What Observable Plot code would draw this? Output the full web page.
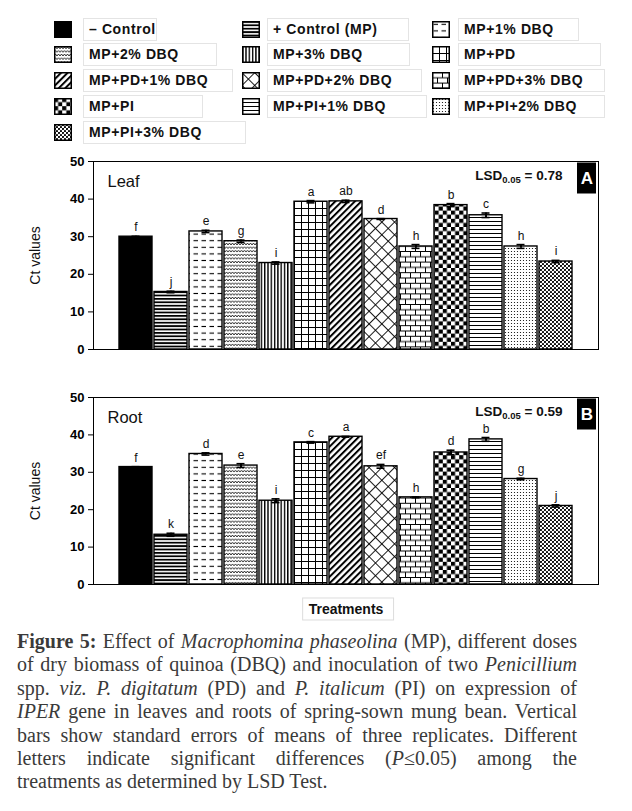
<!DOCTYPE html>
<html>
<head>
<meta charset="utf-8">
<script src="https://cdn.jsdelivr.net/npm/d3@7"></script>
<script src="https://cdn.jsdelivr.net/npm/@observablehq/plot@0.6"></script>
<style>
  html, body { margin: 0; padding: 0; background: #fff; }
  body { width: 632px; height: 811px; position: relative; overflow: hidden; font-family: "Liberation Sans", Arial, sans-serif; }
  #legend { position: absolute; left: 0; top: 0; width: 632px; height: 145px; }
  .sw { position: absolute; width: 18px; height: 17px; }
  .lb { position: absolute; height: 21px; border: 1px solid #e4e4e4; box-sizing: content-box;
        font-weight: bold; font-size: 14px; line-height: 21px; padding-left: 5px; letter-spacing: 0.6px; color: #111; white-space: nowrap; }
  #panelA { position: absolute; left: 0; top: 145px; }
  #panelB { position: absolute; left: 0; top: 365px; }
  #caption { position: absolute; left: 17px; top: 630px; width: 560px; font-family: "Liberation Serif", "Times New Roman", serif;
             font-size: 20px; color: #3a3a3a; }
  #caption div { height: 23.4px; line-height: 23.4px; white-space: nowrap; text-align: justify; text-align-last: justify; }
  #caption div.last { text-align-last: left; }
</style>
</head>
<body>
<svg width="0" height="0" style="position:absolute;left:0;top:0">
  <defs>
    <pattern id="p1" patternUnits="userSpaceOnUse" width="4" height="3.4"><rect width="4" height="3.4" fill="#fff"/><rect width="4" height="1.8" fill="#000"/></pattern>
    <pattern id="p2" patternUnits="userSpaceOnUse" width="8" height="6.6"><rect width="8" height="6.6" fill="#fff"/><line x1="1.5" y1="3.3" x2="6" y2="3.3" stroke="#000" stroke-width="1.1"/></pattern>
    <pattern id="p3" patternUnits="userSpaceOnUse" width="6" height="3.6"><rect width="6" height="3.6" fill="#fff"/><path d="M0 2.7L1.5 0.9L3 2.7L4.5 0.9L6 2.7" fill="none" stroke="#000" stroke-width="0.8"/></pattern>
    <pattern id="p4" patternUnits="userSpaceOnUse" width="3.3" height="4"><rect width="3.3" height="4" fill="#fff"/><rect width="1.4" height="4" fill="#000"/></pattern>
    <pattern id="p5" patternUnits="userSpaceOnUse" width="7" height="7"><rect width="7" height="7" fill="#fff"/><path d="M0 0.5H7M0.5 0V7" stroke="#000" stroke-width="1"/></pattern>
    <pattern id="p6" patternUnits="userSpaceOnUse" width="4.6" height="4.6" patternTransform="rotate(45)"><rect width="4.6" height="4.6" fill="#fff"/><rect width="2" height="4.6" fill="#000"/></pattern>
    <pattern id="p7" patternUnits="userSpaceOnUse" width="9" height="9" patternTransform="rotate(45)"><rect width="9" height="9" fill="#fff"/><path d="M0 0.5H9M0.5 0V9" stroke="#000" stroke-width="0.9"/></pattern>
    <pattern id="p8" patternUnits="userSpaceOnUse" width="10" height="10.6"><rect width="10" height="10.6" fill="#fff"/><path d="M0 0.5H10M0 5.8H10M0.5 0V5.3M5.5 5.3V10.6" stroke="#000" stroke-width="1"/></pattern>
    <pattern id="p9" patternUnits="userSpaceOnUse" width="8.2" height="8.2"><rect width="8.2" height="8.2" fill="#fff"/><rect width="4.1" height="4.1" fill="#000"/><rect x="4.1" y="4.1" width="4.1" height="4.1" fill="#000"/></pattern>
    <pattern id="p10" patternUnits="userSpaceOnUse" width="4" height="4"><rect width="4" height="4" fill="#fff"/><line x1="0" y1="0.5" x2="4" y2="0.5" stroke="#000" stroke-width="1"/></pattern>
    <pattern id="p11" patternUnits="userSpaceOnUse" width="3" height="3"><rect width="3" height="3" fill="#fff"/><circle cx="1.5" cy="1.5" r="0.6" fill="#000"/></pattern>
    <pattern id="p12" patternUnits="userSpaceOnUse" width="4" height="4"><rect width="4" height="4" fill="#fff"/><circle cx="1" cy="1" r="1.1" fill="#000"/><circle cx="3" cy="3" r="1.1" fill="#000"/></pattern>
  </defs>
</svg>
<div id="legend"></div>
<div id="panelA"></div>
<div id="panelB"></div>
<div id="caption">
  <div><b>Figure 5:</b> Effect of <i>Macrophomina phaseolina</i> (MP), different doses</div>
  <div>of dry biomass of quinoa (DBQ) and inoculation of two <i>Penicillium</i></div>
  <div>spp. <i>viz. P. digitatum</i> (PD) and <i>P. italicum</i> (PI) on expression of</div>
  <div><i>IPER</i> gene in leaves and roots of spring-sown mung bean. Vertical</div>
  <div>bars show standard errors of means of three replicates. Different</div>
  <div>letters indicate significant differences (<i>P</i>≤0.05) among the</div>
  <div class="last">treatments as determined by LSD Test.</div>
</div>
<script>
// ---------- data ----------
const treatments = ["– Control", "+ Control (MP)", "MP+1% DBQ", "MP+2% DBQ", "MP+3% DBQ", "MP+PD",
  "MP+PD+1% DBQ", "MP+PD+2% DBQ", "MP+PD+3% DBQ", "MP+PI", "MP+PI+1% DBQ", "MP+PI+2% DBQ", "MP+PI+3% DBQ"];
const leafCt      = [30.0, 15.3, 31.4, 28.8, 23.0, 39.3, 39.4, 34.7, 27.4, 38.4, 35.7, 27.4, 23.4];
const leafSE      = [0.1, 0.2, 0.3, 0.3, 0.3, 0.3, 0.3, 0.1, 0.5, 0.4, 0.6, 0.5, 0.3];
const leafLetters = ["f", "j", "e", "g", "i", "a", "ab", "d", "h", "b", "c", "h", "i"];
const rootCt      = [31.4, 13.3, 34.9, 31.8, 22.4, 38.0, 39.5, 31.6, 23.3, 35.3, 38.8, 28.2, 21.0];
const rootSE      = [0.1, 0.4, 0.3, 0.5, 0.5, 0.2, 0.1, 0.5, 0.1, 0.6, 0.5, 0.2, 0.3];
const rootLetters = ["f", "k", "d", "e", "i", "c", "a", "ef", "h", "d", "b", "g", "j"];
const yTicks = [0, 10, 20, 30, 40, 50];
const fills = ["#000", "url(#p1)", "url(#p2)", "url(#p3)", "url(#p4)", "url(#p5)", "url(#p6)",
  "url(#p7)", "url(#p8)", "url(#p9)", "url(#p10)", "url(#p11)", "url(#p12)"];

// ---------- legend (layout) ----------
const legendCols = [{sw: 54, box: 83}, {sw: 242, box: 267}, {sw: 432, box: 458}];
const legendBoxW = [67, 135, 114, 127, 136, 136, 143, 148, 140, 113, 153, 140, 156];
const legend = document.getElementById("legend");
treatments.forEach((t, i) => {
  const r = Math.floor(i / 3), c = i % 3;
  const cy = 29 + r * 25.8;
  const sw = document.createElementNS("http://www.w3.org/2000/svg", "svg");
  sw.setAttribute("class", "sw");
  sw.setAttribute("width", 18); sw.setAttribute("height", 17);
  sw.style.left = legendCols[c].sw + "px";
  sw.style.top = (cy - 8.5) + "px";
  sw.innerHTML = `<rect x="0.75" y="0.75" width="16.5" height="15.5" fill="${fills[i]}" stroke="#000" stroke-width="1.5"/>`;
  legend.appendChild(sw);
  const lb = document.createElement("div");
  lb.className = "lb";
  lb.textContent = t;
  lb.style.left = legendCols[c].box + "px";
  lb.style.top = (cy - 11.5) + "px";
  lb.style.width = legendBoxW[i] + "px";
  legend.appendChild(lb);
});

// ---------- panels ----------
const FONT = "Liberation Sans, Arial, sans-serif";
const SVGNS = "http://www.w3.org/2000/svg";
function panel(host, {ct, se, letters, name, lsd, tag, marginTop, innerH, height, xLabel}) {
  const data = treatments.map((t, i) => ({t, v: ct[i], e: se[i], l: letters[i], f: fills[i]}));
  const marginBottom = height - marginTop - innerH;
  const marks = [
    Plot.barY(data, {x: "t", y: "v", fill: "f", stroke: "#000", strokeWidth: 1.4}),
    Plot.ruleX(data, {x: "t", y1: d => d.v - d.e, y2: d => d.v + d.e, stroke: "#000", strokeWidth: 2}),
    Plot.tickY(data, {x: "t", y: d => d.v + d.e, insetLeft: 12.5, insetRight: 12.5, stroke: "#000", strokeWidth: 1.6}),
    Plot.tickY(data, {x: "t", y: d => d.v - d.e, insetLeft: 12.5, insetRight: 12.5, stroke: "#000", strokeWidth: 1.6}),
    Plot.text(data, {x: "t", y: d => d.v + d.e, text: "l", dy: -5, lineAnchor: "bottom", fontSize: 12, fill: "#111"}),
    Plot.frame({stroke: "#000", strokeWidth: 1}),
    Plot.axisY({ticks: yTicks, tickSize: 5, tickPadding: 4, fontSize: 13, fontWeight: "bold", label: null, strokeWidth: 1}),
    Plot.text([name], {text: d => d, frameAnchor: "top-left", dx: 14, dy: 20, textAnchor: "start", lineAnchor: "middle", fontSize: 16.5, fill: "#111"}),
    Plot.text(["Ct values"], {text: d => d, frameAnchor: "left", rotate: -90, dx: -58, textAnchor: "middle", lineAnchor: "middle", fontSize: 14, fill: "#111"}),
    Plot.text([lsd], {text: d => d, frameAnchor: "top-right", dx: -36, dy: 14, textAnchor: "end", lineAnchor: "middle", fontWeight: "bold", fontSize: 13.5, fill: "#111"}),
    Plot.text([tag], {text: d => d, frameAnchor: "top-right", dx: -11.5, dy: 17, textAnchor: "middle", lineAnchor: "middle", fontWeight: "bold", fontSize: 17, fill: "#fff"})
  ];
  if (xLabel) marks.push(Plot.text([xLabel], {text: d => d, frameAnchor: "bottom", dy: 25, textAnchor: "middle", lineAnchor: "middle", fontWeight: "bold", fontSize: 14, fill: "#111"}));
  const svg = Plot.plot({
    width: 632, height, marginTop, marginBottom, marginLeft: 93, marginRight: 34,
    style: {fontFamily: FONT, background: "#fff", color: "#000"},
    x: {domain: treatments, paddingInner: 0.06, paddingOuter: 0.7, axis: null},
    y: {domain: [0, 50], axis: null},
    color: {type: "identity"},
    marks
  });
  document.getElementById("panel" + host).appendChild(svg);
  const sel = d3.select(svg);
  const right = 632 - 34;
  // LSD subscript
  sel.selectAll("text").filter(function () { return this.textContent === lsd; }).each(function () {
    const m = lsd.match(/^LSD(0\.05)( = .*)$/);
    const el = d3.select(this);
    el.text(null);
    el.append("tspan").text("LSD");
    el.append("tspan").attr("font-size", 9.5).attr("dy", 3).text(m[1]);
    el.append("tspan").attr("dy", -3).text(m[2]);
  });
  // black tag box behind the letter (in the root coordinate system)
  sel.selectAll("text").filter(function () { return this.textContent === tag; }).each(function () {
    let g = this;
    while (g.parentNode !== svg) g = g.parentNode;
    const r = document.createElementNS(SVGNS, "rect");
    r.setAttribute("x", right - 21); r.setAttribute("y", marginTop + 1.5);
    r.setAttribute("width", 19); r.setAttribute("height", 31); r.setAttribute("fill", "#000");
    svg.insertBefore(r, g);
  });
  // light box round the axis label
  if (xLabel) {
    const sb = svg.getBoundingClientRect();
    sel.selectAll("text").filter(function () { return this.textContent === xLabel; }).each(function () {
      const b = this.getBoundingClientRect();
      const r = document.createElementNS(SVGNS, "rect");
      r.setAttribute("x", b.left - sb.left - 6); r.setAttribute("y", b.top - sb.top - 3);
      r.setAttribute("width", b.width + 16); r.setAttribute("height", b.height + 6);
      r.setAttribute("fill", "none"); r.setAttribute("stroke", "#dcdcdc");
      svg.appendChild(r);
    });
  }
}
panel("A", {ct: leafCt, se: leafSE, letters: leafLetters, name: "Leaf", lsd: "LSD0.05 = 0.78", tag: "A", marginTop: 16, innerH: 188, height: 220});
panel("B", {ct: rootCt, se: rootSE, letters: rootLetters, name: "Root", lsd: "LSD0.05 = 0.59", tag: "B", marginTop: 32, innerH: 187, height: 264, xLabel: "Treatments"});
</script>
</body>
</html>
